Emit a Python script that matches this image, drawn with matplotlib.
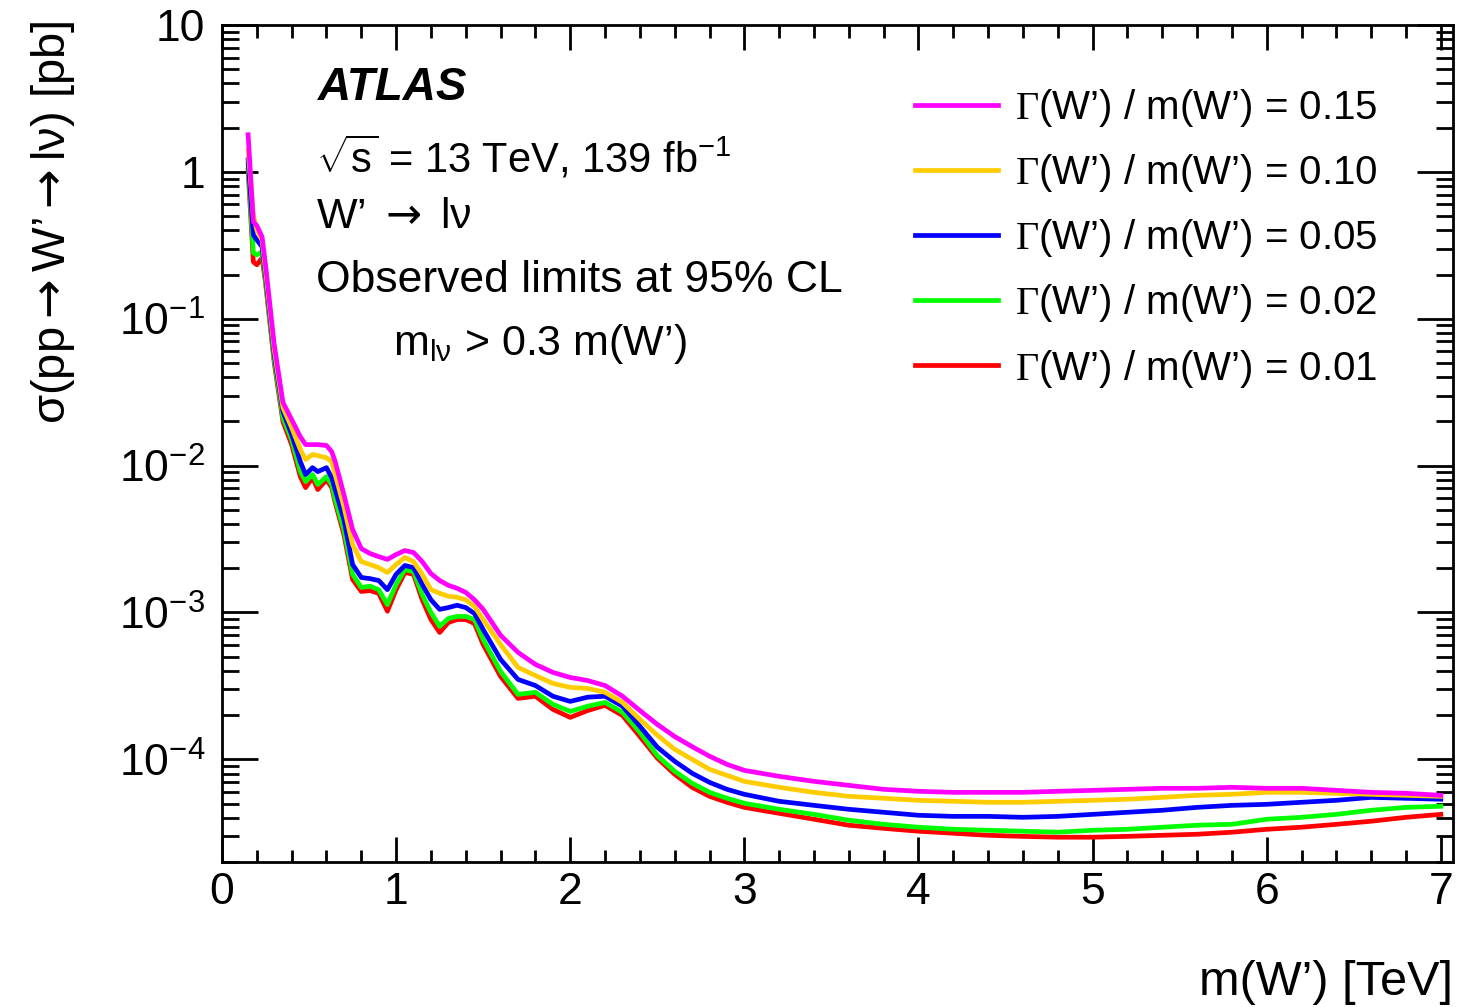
import matplotlib
matplotlib.use("Agg")
import matplotlib.pyplot as plt
from matplotlib.ticker import FixedLocator, MultipleLocator, NullFormatter

plt.rcParams['font.family'] = ['Liberation Sans', 'DejaVu Sans']
plt.rcParams['mathtext.fontset'] = 'custom'
plt.rcParams['mathtext.rm'] = 'Liberation Sans'
plt.rcParams['mathtext.it'] = 'Liberation Sans:italic'
plt.rcParams['mathtext.bf'] = 'Liberation Sans:bold'
plt.rcParams['mathtext.sf'] = 'Liberation Serif'
plt.rcParams['mathtext.cal'] = 'DejaVu Sans'   # only used for the longer arrows

# W' mass points [TeV]
mass = [0.15, 0.18, 0.2, 0.23, 0.25, 0.3, 0.35, 0.4, 0.45, 0.48, 0.52, 0.55, 0.6, 0.63,
        0.65, 0.7, 0.75, 0.8, 0.85, 0.9, 0.95, 1.0, 1.05, 1.1, 1.15, 1.2, 1.25, 1.3,
        1.35, 1.4, 1.45, 1.5, 1.6, 1.7, 1.8, 1.9, 2.0, 2.1, 2.2, 2.3, 2.4, 2.5, 2.6,
        2.7, 2.8, 2.9, 3.0, 3.2, 3.4, 3.6, 3.8, 4.0, 4.2, 4.4, 4.6, 4.8, 5.0, 5.2,
        5.4, 5.6, 5.8, 6.0, 6.2, 6.4, 6.6, 6.8, 7.0]

# observed limits [pb] for each width hypothesis
lim_015 = [1.79, 0.457, 0.430, 0.361, 0.233, 0.0665, 0.0269, 0.0206, 0.0157, 0.0139,
           0.0139, 0.0139, 0.0137, 0.01245, 0.01064, 0.00636, 0.00367, 0.00272, 0.00252,
           0.00240, 0.00230, 0.00248, 0.00264, 0.00256, 0.00222, 0.00184, 0.00165,
           0.00153, 0.00146, 0.00137, 0.00122, 0.00105, 6.99e-4, 5.35e-4, 4.43e-4,
           3.91e-4, 3.61e-4, 3.44e-4, 3.18e-4, 2.69e-4, 2.15e-4, 1.73e-4, 1.43e-4,
           1.22e-4, 1.05e-4, 9.25e-5, 8.41e-5,
           7.66e-5, 7.08e-5, 6.65e-5, 6.25e-5, 6.06e-5, 5.96e-5, 5.96e-5, 5.96e-5,
           6.06e-5, 6.15e-5, 6.25e-5, 6.35e-5, 6.35e-5, 6.45e-5, 6.35e-5, 6.35e-5,
           6.15e-5, 5.96e-5, 5.87e-5, 5.69e-5]
lim_010 = [1.41, 0.509, 0.402, 0.344, 0.215, 0.0615, 0.0248, 0.0182, 0.01285, 0.0110,
           0.0119, 0.0117, 0.0113, 0.01064, 0.00869, 0.00526, 0.00290, 0.00222, 0.00212,
           0.00202, 0.00187, 0.00212, 0.00237, 0.00222, 0.00182, 0.00143, 0.00135,
           0.00129, 0.00127, 0.00122, 0.00110, 8.95e-4, 6.05e-4, 4.23e-4, 3.72e-4,
           3.29e-4, 3.09e-4, 3.04e-4, 2.86e-4, 2.44e-4, 1.87e-4, 1.46e-4, 1.17e-4,
           1.0e-4, 8.55e-5, 7.78e-5, 7.08e-5,
           6.45e-5, 5.96e-5, 5.60e-5, 5.43e-5, 5.26e-5, 5.18e-5, 5.10e-5, 5.10e-5,
           5.18e-5, 5.26e-5, 5.35e-5, 5.51e-5, 5.69e-5, 5.78e-5, 5.96e-5, 5.96e-5,
           5.87e-5, 5.78e-5, 5.69e-5, 5.60e-5]
lim_005 = [1.21, 0.372, 0.344, 0.309, 0.199, 0.0569, 0.0233, 0.0163, 0.01064, 0.00869,
           0.00968, 0.00910, 0.00968, 0.00828, 0.00687, 0.00430, 0.00212, 0.00173,
           0.00170, 0.00165, 0.00143, 0.00182, 0.00209, 0.00202, 0.00155, 0.00122,
           0.00105, 0.00108, 0.00112, 0.00108, 9.84e-4, 7.65e-4, 4.79e-4, 3.50e-4,
           3.18e-4, 2.69e-4, 2.48e-4, 2.65e-4, 2.69e-4, 2.30e-4, 1.68e-4, 1.21e-4,
           9.7e-5, 8.04e-5, 6.97e-5, 6.25e-5, 5.78e-5,
           5.18e-5, 4.86e-5, 4.57e-5, 4.36e-5, 4.16e-5, 4.09e-5, 4.09e-5, 4.03e-5,
           4.09e-5, 4.22e-5, 4.36e-5, 4.50e-5, 4.71e-5, 4.86e-5, 4.94e-5, 5.10e-5,
           5.26e-5, 5.51e-5, 5.43e-5, 5.35e-5]
lim_002 = [1.12, 0.281, 0.272, 0.286, 0.184, 0.0526, 0.0212, 0.0150, 0.00910, 0.00778,
           0.00869, 0.00743, 0.00841, 0.00743, 0.00588, 0.00367, 0.00182, 0.00148,
           0.00151, 0.00143, 0.00113, 0.00155, 0.00196, 0.00190, 0.00132, 0.00100,
           8.04e-4, 9.10e-4, 9.40e-4, 9.40e-4, 8.95e-4, 6.55e-4, 3.97e-4, 2.77e-4,
           2.86e-4, 2.37e-4, 2.12e-4, 2.30e-4, 2.44e-4, 2.09e-4, 1.53e-4, 1.06e-4,
           8.29e-5, 6.87e-5, 5.96e-5, 5.43e-5, 5.02e-5,
           4.57e-5, 4.22e-5, 3.85e-5, 3.61e-5, 3.45e-5, 3.34e-5, 3.29e-5, 3.24e-5,
           3.19e-5, 3.29e-5, 3.34e-5, 3.45e-5, 3.56e-5, 3.61e-5, 3.91e-5, 4.03e-5,
           4.22e-5, 4.50e-5, 4.71e-5, 4.79e-5]
lim_001 = [1.03, 0.244, 0.233, 0.260, 0.176, 0.0502, 0.0199, 0.0139, 0.00841, 0.00708,
           0.00828, 0.00687, 0.00803, 0.00708, 0.00560, 0.00340, 0.00168, 0.00139,
           0.00141, 0.00135, 0.00102, 0.00143, 0.00187, 0.00182, 0.00122, 8.95e-4,
           7.31e-4, 8.55e-4, 8.95e-4, 8.95e-4, 8.41e-4, 6.05e-4, 3.67e-4, 2.60e-4,
           2.69e-4, 2.19e-4, 1.93e-4, 2.15e-4, 2.33e-4, 1.99e-4, 1.43e-4, 1.02e-4,
           7.91e-5, 6.45e-5, 5.60e-5, 5.10e-5, 4.71e-5,
           4.29e-5, 3.91e-5, 3.56e-5, 3.39e-5, 3.24e-5, 3.14e-5, 3.04e-5, 2.99e-5,
           2.95e-5, 2.95e-5, 2.99e-5, 3.04e-5, 3.09e-5, 3.19e-5, 3.34e-5, 3.45e-5,
           3.61e-5, 3.79e-5, 4.03e-5, 4.22e-5]

widths = ["0.15", "0.10", "0.05", "0.02", "0.01"]
colors = ["#ff00ff", "#ffcc00", "#0000ff", "#00ff00", "#ff0000"]
limits = [lim_015, lim_010, lim_005, lim_002, lim_001]

ytick_vals = [1e-4, 1e-3, 1e-2, 1e-1, 1, 10]
ytick_labels = ["$10^{-4}$", "$10^{-3}$", "$10^{-2}$", "$10^{-1}$", "1", "10"]

fig = plt.figure(figsize=(14.77, 10.07), dpi=100)
ax = fig.add_axes([222 / 1477, 145 / 1007, 1231 / 1477, 837 / 1007])

# draw the narrowest width first so the wide-width curves sit on top
handles = {}
for w, c, lim in reversed(list(zip(widths, colors, limits))):
    ln, = ax.plot(mass, lim, color=c, lw=3.4, solid_joinstyle="round")
    handles[w] = ln

ax.set_yscale("log")
ax.set_xlim(0, 7.07)
ax.set_ylim(2e-5, 10)

ax.xaxis.set_major_locator(MultipleLocator(1))
ax.xaxis.set_minor_locator(MultipleLocator(0.2))
ax.yaxis.set_major_locator(FixedLocator(ytick_vals))
ax.set_yticklabels(ytick_labels)
minors = [m * 10.0 ** e for e in range(-5, 1) for m in range(2, 10)]
ax.yaxis.set_minor_locator(FixedLocator(minors))
ax.yaxis.set_minor_formatter(NullFormatter())

ax.tick_params(which="both", direction="in", top=True, right=True, width=2)
ax.tick_params(axis="x", which="major", length=18, labelsize=32, pad=7)
ax.tick_params(axis="x", which="minor", length=9)
ax.tick_params(axis="y", which="major", length=26, labelsize=32, pad=12)
ax.tick_params(axis="y", which="minor", length=12.5)
for s in ax.spines.values():
    s.set_linewidth(2)

def ftxt(px, py, s, **kw):
    kw.setdefault("va", "baseline")
    fig.text(px / 1477, 1 - py / 1007, s, **kw)

arrow = r"$\mathcal{\rightarrow}$"

# axis titles, ROOT style: flush with the right / top ends
ftxt(1453, 995, "m(W’) [TeV]", fontsize=35, ha="right")
ftxt(53, 20, "σ(pp" + arrow + "W’" + arrow + "lν) [pb]", fontsize=34,
     rotation=90, ha="center", va="top")

ftxt(318, 100, "ATLAS", fontsize=33, fontweight="bold", fontstyle="italic")
ftxt(316, 172, r"$\sqrt{\mathrm{s}}$ = 13 TeV, 139 fb$^{-1}$", fontsize=30)
ftxt(316, 228, "W’ " + arrow + " lν", fontsize=31)
ftxt(316, 292, "Observed limits at 95% CL", fontsize=32)
ftxt(393, 355, r"m$_{\mathrm{l\nu}}$ > 0.3 m(W’)", fontsize=31)

leg = ax.legend([handles[w] for w in widths],
                [r"$\mathsf{\Gamma}$(W’) / m(W’) = " + w for w in widths],
                loc="upper left", bbox_to_anchor=(0.563, 0.926), frameon=False,
                fontsize=29, handlelength=2.06, handletextpad=0.42,
                labelspacing=0.575, borderpad=0, borderaxespad=0)

fig.savefig("out.png", dpi=100)
